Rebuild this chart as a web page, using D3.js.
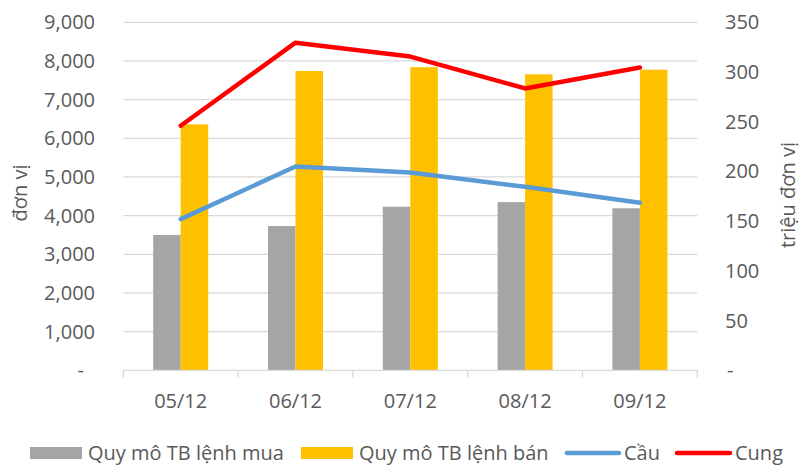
<!DOCTYPE html>
<html>
<head>
<meta charset="utf-8">
<script src="https://cdn.jsdelivr.net/npm/d3@7"></script>
<style>
  body { margin: 0; background: #fff; }
  text { font-family: "Open Sans", sans-serif; fill: #595959; }
</style>
</head>
<body>
<div id="chart"></div>
<script>
// data
var categories = ["05/12", "06/12", "07/12", "08/12", "09/12"];
var muaValues = [3500, 3730, 4230, 4350, 4190];       // Quy mô TB lệnh mua (left axis)
var banValues = [6360, 7740, 7840, 7655, 7775];       // Quy mô TB lệnh bán (left axis)
var cauValues = [152, 205, 199, 184.5, 168.5];        // Cầu (right axis)
var cungValues = [246, 329.5, 315.5, 283.5, 304.5];   // Cung (right axis)
var leftTicks = [0, 1000, 2000, 3000, 4000, 5000, 6000, 7000, 8000, 9000];
var rightTicks = [0, 50, 100, 150, 200, 250, 300, 350];

var W = 801, H = 466;
var pLeft = 123.3, pRight = 697.3, pTop = 22.3, pBottom = 370.3;
var fs = 20;

var svg = d3.select("#chart").append("svg")
    .attr("width", W)
    .attr("height", H);

var x = d3.scaleBand().domain(categories).range([pLeft, pRight]).padding(0);
var yL = d3.scaleLinear().domain([0, 9000]).range([pBottom, pTop]);
var yR = d3.scaleLinear().domain([0, 350]).range([pBottom, pTop]);

var groupW = 55;
var inner = d3.scaleBand().domain(["mua", "ban"]).range([0, groupW]).padding(0);

function fmt(v) { return v === 0 ? "-" : d3.format(",")(v); }

// gridlines
svg.append("g").selectAll("line")
    .data(leftTicks.slice(1))
    .join("line")
    .attr("x1", pLeft).attr("x2", pRight)
    .attr("y1", d => yL(d)).attr("y2", d => yL(d))
    .attr("stroke", "#d9d9d9").attr("stroke-width", 1.3);

// left tick labels
svg.append("g").selectAll("text")
    .data(leftTicks)
    .join("text")
    .attr("x", d => d === 0 ? 84 : 95)
    .attr("y", d => yL(d))
    .attr("dy", "0.35em")
    .attr("text-anchor", "end")
    .attr("font-size", fs)
    .text(fmt);

// right tick labels
svg.append("g").selectAll("text")
    .data(rightTicks)
    .join("text")
    .attr("x", d => d === 0 ? 727 : 725)
    .attr("y", d => yR(d))
    .attr("dy", "0.35em")
    .attr("text-anchor", "start")
    .attr("font-size", fs)
    .text(fmt);

// bars
var bars = svg.append("g");
categories.forEach(function(c, i) {
    var x0 = x(c) + x.bandwidth() / 2 - groupW / 2;
    bars.append("rect")
        .attr("x", x0 + inner("mua"))
        .attr("y", yL(muaValues[i]))
        .attr("width", inner.bandwidth())
        .attr("height", pBottom - yL(muaValues[i]))
        .attr("fill", "#a5a5a5");
    bars.append("rect")
        .attr("x", x0 + inner("ban"))
        .attr("y", yL(banValues[i]))
        .attr("width", inner.bandwidth())
        .attr("height", pBottom - yL(banValues[i]))
        .attr("fill", "#ffc000");
});

// x axis line + ticks
svg.append("line")
    .attr("x1", pLeft).attr("x2", pRight)
    .attr("y1", pBottom).attr("y2", pBottom)
    .attr("stroke", "#d9d9d9").attr("stroke-width", 1.3);
var bounds = categories.map(c => x(c)).concat([pRight]);
svg.append("g").selectAll("line")
    .data(bounds)
    .join("line")
    .attr("x1", d => d).attr("x2", d => d)
    .attr("y1", pBottom).attr("y2", pBottom + 7.5)
    .attr("stroke", "#d9d9d9").attr("stroke-width", 1.3);

svg.append("g").selectAll("text")
    .data(categories)
    .join("text")
    .attr("x", d => x(d) + x.bandwidth() / 2)
    .attr("y", 408)
    .attr("text-anchor", "middle")
    .attr("font-size", fs)
    .text(d => d);

// lines
var line = d3.line()
    .x((d, i) => x(categories[i]) + x.bandwidth() / 2)
    .y(d => yR(d));

svg.append("path")
    .datum(cauValues)
    .attr("d", line)
    .attr("fill", "none")
    .attr("stroke", "#5b9bd5")
    .attr("stroke-width", 4.5)
    .attr("stroke-linecap", "round")
    .attr("stroke-linejoin", "round");

svg.append("path")
    .datum(cungValues)
    .attr("d", line)
    .attr("fill", "none")
    .attr("stroke", "#ff0000")
    .attr("stroke-width", 4.5)
    .attr("stroke-linecap", "round")
    .attr("stroke-linejoin", "round");

// axis titles
svg.append("text")
    .attr("transform", "translate(27,193) rotate(-90)")
    .attr("text-anchor", "middle")
    .attr("font-size", fs)
    .text("đơn vị");

svg.append("text")
    .attr("transform", "translate(795,195) rotate(-90)")
    .attr("text-anchor", "middle")
    .attr("font-size", fs)
    .text("triệu đơn vị");

// legend
var legendY = 453;
var lg = svg.append("g");
lg.append("rect").attr("x", 30).attr("y", legendY - 6).attr("width", 52).attr("height", 12).attr("fill", "#a5a5a5");
lg.append("text").attr("x", 88).attr("y", legendY).attr("dy", "0.35em").attr("font-size", fs).text("Quy mô TB lệnh mua");
lg.append("rect").attr("x", 301).attr("y", legendY - 6).attr("width", 52).attr("height", 12).attr("fill", "#ffc000");
lg.append("text").attr("x", 359).attr("y", legendY).attr("dy", "0.35em").attr("font-size", fs).text("Quy mô TB lệnh bán");
lg.append("line").attr("x1", 567).attr("x2", 619).attr("y1", legendY).attr("y2", legendY)
    .attr("stroke", "#5b9bd5").attr("stroke-width", 4.5).attr("stroke-linecap", "round");
lg.append("text").attr("x", 624).attr("y", legendY).attr("dy", "0.35em").attr("font-size", fs).text("Cầu");
lg.append("line").attr("x1", 677).attr("x2", 730).attr("y1", legendY).attr("y2", legendY)
    .attr("stroke", "#ff0000").attr("stroke-width", 4.5).attr("stroke-linecap", "round");
lg.append("text").attr("x", 735).attr("y", legendY).attr("dy", "0.35em").attr("font-size", fs).text("Cung");
</script>
</body>
</html>
